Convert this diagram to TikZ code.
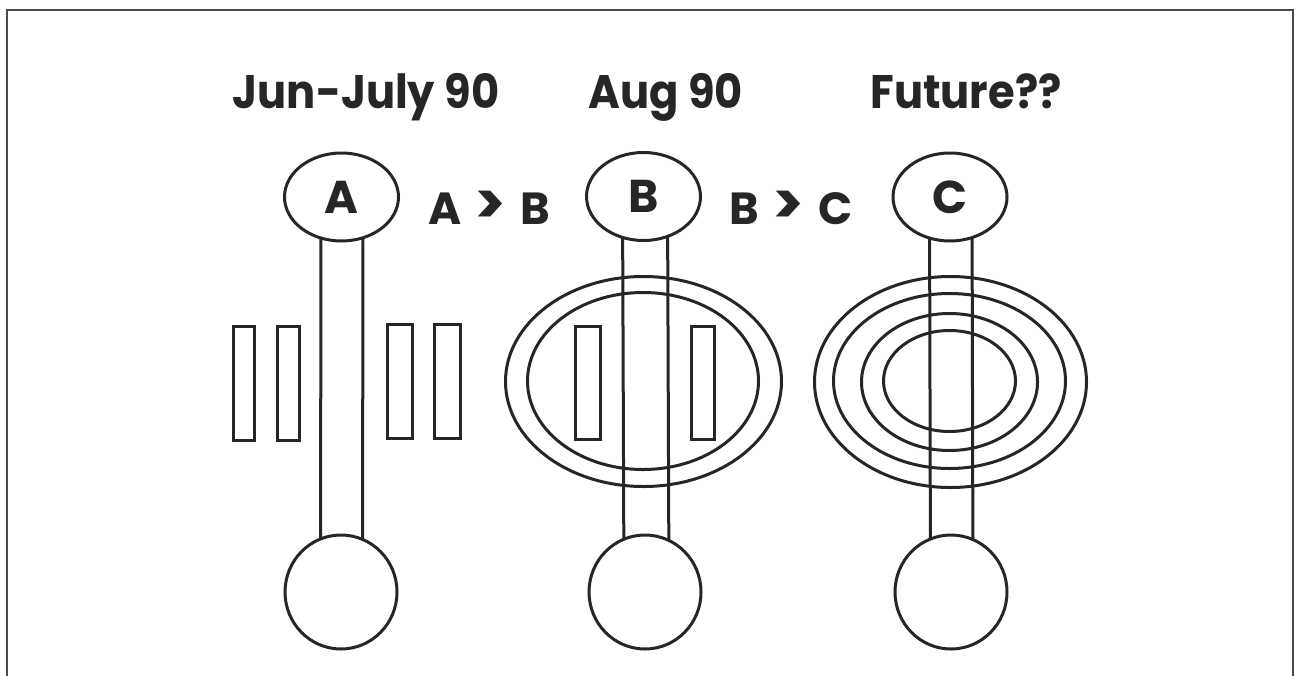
\documentclass[tikz,border=0pt]{standalone}
\usepackage{fontspec}
\setmainfont{Poppins}
\usetikzlibrary{shapes.geometric}
\pgfdeclarelayer{bg}
\pgfdeclarelayer{paper}
\pgfsetlayers{paper,bg,main}
\definecolor{ink}{HTML}{262626}
\definecolor{framegray}{HTML}{4A4A4A}
% a cap-height "greater than" sign
\newcommand{\gtsign}{\hspace{0.3em}\raisebox{0.0em}{\scalebox{1.3}{>}}\hspace{0.3em}}
\tikzset{
  ink/.style={draw=ink, line width=3pt},
  bulb/.style={ink, ellipse, fill=white, inner sep=0pt, minimum width=114pt, minimum height=88pt,
    font=\bfseries\fontsize{46}{46}\selectfont, text=ink},
  foot/.style={ink, ellipse, fill=white, inner sep=0pt, minimum width=112pt, minimum height=114pt},
  title/.style={anchor=base, text=ink, font=\bfseries\fontsize{47}{47}\selectfont, xscale=0.92},
  relation/.style={text=ink, font=\bfseries\fontsize{45}{45}\selectfont},
  bar/.style={ink},
  ring/.style={ink},
  stem/.style={ink},
  frame/.style={draw=framegray, line width=2.2pt}
}
\begin{document}
\begin{tikzpicture}[x=1pt,y=-1pt]
\useasboundingbox (0,0) rectangle (1300,675);
\begin{pgfonlayer}{paper}
\fill[white] (0,0) rectangle (1300,675);
\end{pgfonlayer}
% open frame running off the bottom edge
\draw[frame] (7,690) -- (7,10) -- (1293,10) -- (1293,690);

% column headings
\node[title] (t1) at (366,108) {Jun-July 90};
\node[title] (t2) at (666,108) {Aug 90};
\node[title] (t3) at (966,108) {Future??};

% top bulbs
\node[bulb] (A) at (341.5,197) {A};
\node[bulb] (B) at (643.5,196.5) {B};
\node[bulb] (C) at (950,197) {C};

% relations between bulbs
\node[relation] (ab) at (489,208) {A\gtsign B};
\node[relation] (bc) at (791,208) {B\gtsign C};

% bottom bulbs
\node[foot] (Ab) at (341,592) {};
\node[foot] (Bb) at (645,592) {};
\node[foot] (Cb) at (951,592) {};

% stems, behind the bulbs
\begin{pgfonlayer}{bg}
\draw[stem] ([xshift=-20.5pt]A.center) -- ([xshift=-20.5pt]Ab.center);
\draw[stem] ([xshift=21.5pt]A.center) -- ([xshift=21.5pt]Ab.center);
\draw[stem] ([xshift=-21pt]B.center) -- ([xshift=-21pt]Bb.center);
\draw[stem] ([xshift=24pt]B.center) -- ([xshift=24pt]Bb.center);
\draw[stem] ([xshift=-20.5pt]C.center) -- ([xshift=-20.5pt]Cb.center);
\draw[stem] ([xshift=22pt]C.center) -- ([xshift=22pt]Cb.center);
\end{pgfonlayer}

% bars beside the first stem
\draw[bar] (233.5,326.5) rectangle (254.5,440.5);
\draw[bar] (277.5,326.5) rectangle (299.5,440.5);
\draw[bar] (387.5,324.5) rectangle (412.5,438.5);
\draw[bar] (434.5,324.5) rectangle (460.5,438.5);

% rings and bars of the second stem
\draw[ring] (643.5,381.5) ellipse [x radius=138, y radius=105];
\draw[ring] (643,381) ellipse [x radius=115.5, y radius=88.5];
\draw[bar] (575.5,326.5) rectangle (600.5,439.5);
\draw[bar] (691.5,326.5) rectangle (714.5,439.5);

% rings of the third stem
\draw[ring] (950.5,382) ellipse [x radius=136, y radius=105.5];
\draw[ring] (949.5,381) ellipse [x radius=116, y radius=87.5];
\draw[ring] (949.5,382) ellipse [x radius=88, y radius=68.5];
\draw[ring] (949.5,381) ellipse [x radius=66, y radius=50.5];
\end{tikzpicture}
\end{document}
